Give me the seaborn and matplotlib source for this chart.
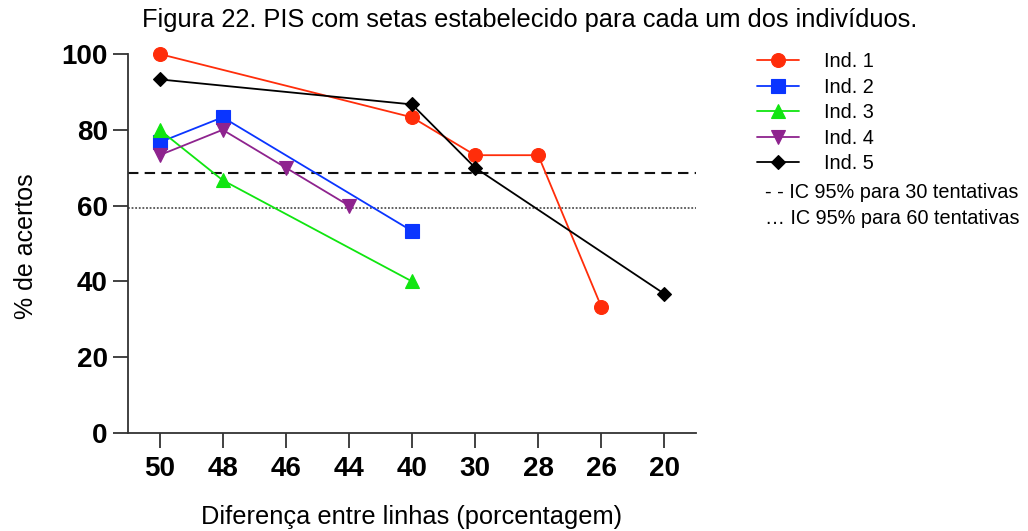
import matplotlib
matplotlib.use("Agg")
import matplotlib.pyplot as plt
import seaborn as sns
import numpy as np
import pandas as pd

# Differences between lines (%), in the order shown on the x axis
diferencas = ["50", "48", "46", "44", "40", "30", "28", "26", "20"]

# % of correct answers per individual (None = condition not tested)
ind1 = [100.0, None, None, None, 83.3, 73.3, 73.3, 33.3, None]
ind2 = [76.7, 83.3, None, None, 53.3, None, None, None, None]
ind3 = [80.0, 66.7, None, None, 40.0, None, None, None, None]
ind4 = [73.3, 80.0, 70.0, 60.0, None, None, None, None, None]
ind5 = [93.3, None, None, None, 86.7, 70.0, None, None, 36.7]

nomes = ["Ind. 1", "Ind. 2", "Ind. 3", "Ind. 4", "Ind. 5"]
series = [ind1, ind2, ind3, ind4, ind5]

# 95% confidence thresholds
ic_30 = 68.5
ic_60 = 59.3

cores = ["#FF2D0A", "#0A35FF", "#10E510", "#8E238E", "#000000"]
marcadores = ["o", "s", "^", "v", "D"]
tamanhos = [10, 9.5, 10, 10, 7]

sns.set_theme(style="white")
plt.rcParams["font.family"] = ["Liberation Sans", "DejaVu Sans"]
plt.rcParams["text.color"] = "black"
plt.rcParams["axes.labelcolor"] = "black"
plt.rcParams["xtick.labelcolor"] = "black"
plt.rcParams["ytick.labelcolor"] = "black"

fig = plt.figure(figsize=(10.28, 5.31), dpi=100)
ax = fig.add_axes([128 / 1028, 1 - 433 / 531, (696 - 128) / 1028, (433 - 54) / 531])

for nome, vals, cor, mk, ms in zip(nomes, series, cores, marcadores, tamanhos):
    df = pd.DataFrame({"pos": np.arange(len(diferencas)), "acertos": vals}).dropna()
    sns.lineplot(data=df, x="pos", y="acertos", ax=ax, color=cor, marker=mk,
                 markersize=ms, markeredgecolor=cor, markeredgewidth=0.8,
                 linewidth=1.3, label=nome, sort=False, zorder=3, clip_on=False)

ax.axhline(ic_30, color="#111111", linestyle=(0, (5, 3)), linewidth=1.5, zorder=2)
ax.axhline(ic_60, color="#555555", linestyle=(0, (1, 1)), linewidth=1.3, zorder=2)

ax.set_xlim(-0.5, 8.5)
ax.set_ylim(0, 100)
ax.set_xticks(np.arange(len(diferencas)))
ax.set_xticklabels(diferencas)
ax.set_yticks([0, 20, 40, 60, 80, 100])

for s in ["top", "right"]:
    ax.spines[s].set_visible(False)
for s in ["left", "bottom"]:
    ax.spines[s].set_color("#333333")
    ax.spines[s].set_linewidth(1.3)

ax.tick_params(axis="both", which="major", length=11, width=1.3, color="#333333",
               labelcolor="black", left=True, bottom=True, labelsize=20)
ax.tick_params(axis="y", pad=3.5)
ax.tick_params(axis="x", pad=5.5)
for lbl in ax.get_xticklabels() + ax.get_yticklabels():
    lbl.set_fontweight("bold")
ax.grid(False)

ax.set_xlabel("Diferença entre linhas (porcentagem)", fontsize=18.3, va="center")
ax.xaxis.set_label_coords(0.5, -0.222)
ax.set_ylabel("% de acertos", fontsize=18, va="center")
ax.yaxis.set_label_coords(-0.18, 0.493)

fig.suptitle("Figura 22. PIS com setas estabelecido para cada um dos indivíduos.",
             x=530 / 1028, y=1 - 20 / 531, va="center", fontsize=18.3)

leg = ax.legend(loc="upper left", bbox_to_anchor=(757 / 1028, 1 - 52 / 531),
                bbox_transform=fig.transFigure, frameon=False, fontsize=14.3,
                handlelength=2.1, handletextpad=1.25, labelspacing=0.33,
                borderpad=0, borderaxespad=0)

fig.text(765 / 1028, 1 - 192 / 531, "- - IC 95% para 30 tentativas",
         fontsize=14.3, va="center", ha="left")
fig.text(765 / 1028, 1 - 219 / 531, "… IC 95% para 60 tentativas",
         fontsize=14.3, va="center", ha="left")

fig.savefig("out.png", dpi=100)
